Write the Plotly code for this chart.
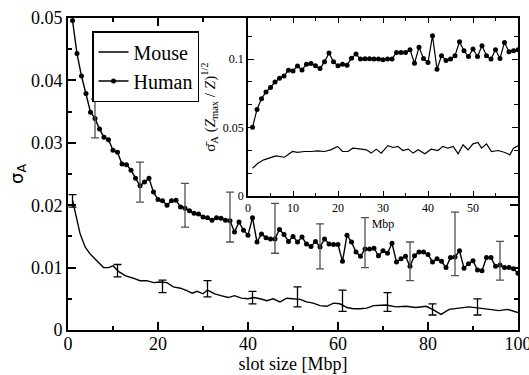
import plotly.graph_objects as go

# ---------------- data ----------------
human_x = list(range(1, 101))
human_y = [0.0496, 0.0443, 0.0407, 0.0379, 0.0349, 0.0339, 0.0322, 0.0309, 0.0305, 0.0288,
           0.0285, 0.0266, 0.0265, 0.0256, 0.0243, 0.0231, 0.0237, 0.0243, 0.0221, 0.0209,
           0.0207, 0.0200, 0.0207, 0.0208, 0.0197, 0.0195, 0.0191, 0.0187, 0.0186, 0.0181,
           0.0180, 0.0176, 0.0180, 0.0179, 0.0176, 0.0175, 0.0157, 0.0173, 0.0160, 0.0152,
           0.0180, 0.0141, 0.0154, 0.0148, 0.0146, 0.0146, 0.0161, 0.0153, 0.0142, 0.0150,
           0.0141, 0.0149, 0.0138, 0.0134, 0.0142, 0.0133, 0.0146, 0.0138, 0.0137, 0.0137,
           0.0110, 0.0152, 0.0141, 0.0125, 0.0118, 0.0130, 0.0130, 0.0131, 0.0119, 0.0127,
           0.0123, 0.0139, 0.0109, 0.0114, 0.0118, 0.0102, 0.0119, 0.0125, 0.0125, 0.0121,
           0.0109, 0.0114, 0.0110, 0.0100, 0.0116, 0.0117, 0.0127, 0.0099, 0.0106, 0.0111,
           0.0096, 0.0095, 0.0116, 0.0116, 0.0102, 0.0104, 0.0100, 0.0100, 0.0098, 0.0091]

mouse_x = [1, 1.8, 2.7, 3.8, 4.9, 6.4, 7.9, 9, 10, 11.2, 12.7, 14.5, 16, 17.5, 19, 20.4, 22,
           23.4, 25, 26.4, 27.6, 28.7, 30, 31, 32.6, 34, 35.6, 37, 38.5, 40, 41.3, 42.7, 44.2,
           45.6, 47.1, 48.6, 50.1, 51.6, 53, 54.5, 56, 57.5, 59, 60.4, 62, 63.4, 64.9, 66.4,
           67.9, 70.7, 72.9, 75.1, 77.3, 79.6, 81, 82.9, 84.7, 86.9, 89.1, 91.4, 93.6, 95.8,
           97.7, 100]
mouse_y = [0.0208, 0.0181, 0.0154, 0.0133, 0.0122, 0.0111, 0.0100, 0.0100, 0.0103, 0.0094,
           0.0087, 0.0083, 0.0079, 0.0079, 0.0076, 0.0077, 0.0076, 0.0069, 0.0067, 0.0063,
           0.0059, 0.0062, 0.0058, 0.0064, 0.0058, 0.0055, 0.0052, 0.0055, 0.0051, 0.0050,
           0.0052, 0.0050, 0.0047, 0.0050, 0.0045, 0.0051, 0.0050, 0.0049, 0.0045, 0.0043,
           0.0039, 0.0038, 0.0043, 0.0042, 0.0036, 0.0034, 0.0034, 0.0035, 0.0039, 0.0040,
           0.0037, 0.0038, 0.0036, 0.0038, 0.0033, 0.0025, 0.0033, 0.0035, 0.0037, 0.0035,
           0.0033, 0.0031, 0.0033, 0.0028]

human_err_x = [6, 16, 26, 36, 46, 56, 66, 76, 86, 96]
human_err_c = [0.0339, 0.0237, 0.0200, 0.0181, 0.0163, 0.0134, 0.0140, 0.0110, 0.0138, 0.0111]
human_err_d = [0.0031, 0.0032, 0.0035, 0.0040, 0.0040, 0.0036, 0.0040, 0.0031, 0.0051, 0.0031]

mouse_err_x = [1, 11, 21, 31, 41, 51, 61, 71, 81, 91]
mouse_err_c = [0.0207, 0.0095, 0.0070, 0.0066, 0.0052, 0.0053, 0.0047, 0.0045, 0.0033, 0.0037]
mouse_err_d = [0.0010, 0.0010, 0.0010, 0.0013, 0.0010, 0.0016, 0.0017, 0.0015, 0.0009, 0.0013]

inset_human_x = list(range(1, 61))
inset_human_y = [0.0502, 0.0632, 0.0711, 0.0760, 0.0792, 0.0833, 0.0860, 0.0877, 0.0919, 0.0914,
                 0.0950, 0.0921, 0.0963, 0.0968, 0.0951, 0.0931, 0.0980, 0.1044, 0.0980, 0.0951,
                 0.0963, 0.0956, 0.1007, 0.1037, 0.1000, 0.1002, 0.1002, 0.1000, 0.1000, 0.0995,
                 0.1000, 0.1000, 0.1049, 0.1049, 0.1049, 0.1069, 0.0970, 0.1086, 0.1005, 0.0975,
                 0.1171, 0.0926, 0.1025, 0.0990, 0.1000, 0.1025, 0.1127, 0.1061, 0.1019, 0.1073,
                 0.1019, 0.1098, 0.1025, 0.1000, 0.1069, 0.1005, 0.1122, 0.1054, 0.1061, 0.1069]

inset_mouse_x = [1, 2.2, 3.5, 6.2, 8.1, 9.9, 11, 12.5, 14, 15.5, 17, 18.4, 19.9, 21, 22.2, 23.3,
                 24.8, 26.3, 27.4, 28.5, 29.6, 31.1, 32.2, 33.3, 34.4, 35.6, 36.7, 37.8, 39.3,
                 40.7, 42.2, 43.3, 44.4, 45.6, 46.7, 47.8, 48.9, 50, 51.1, 51.9, 53, 54.1, 55.6,
                 57.1, 58.2, 59, 60]
inset_mouse_y = [0.0204, 0.0240, 0.0265, 0.0294, 0.0284, 0.0326, 0.0320, 0.0326, 0.0326, 0.0331,
                 0.0326, 0.0338, 0.0363, 0.0326, 0.0326, 0.0350, 0.0345, 0.0338, 0.0314, 0.0343,
                 0.0314, 0.0368, 0.0355, 0.0363, 0.0333, 0.0343, 0.0314, 0.0338, 0.0309, 0.0343,
                 0.0333, 0.0363, 0.0350, 0.0363, 0.0309, 0.0375, 0.0338, 0.0382, 0.0392, 0.0350,
                 0.0382, 0.0326, 0.0333, 0.0319, 0.0301, 0.0350, 0.0368]

series_names = ["Mouse", "Human"]
main_xticks = [0, 20, 40, 60, 80, 100]
inset_xticks = [0, 10, 20, 30, 40, 50]
inset_xticklabels = ["0", "10", "20", "30", "40", "50"]
inset_yticks = [0, 0.05, 0.1]
inset_yticklabels = ["0", "0.05", "0.1"]

# ---------------- figure ----------------
SERIF = "Liberation Serif, Times New Roman, serif"
W, H = 529, 375
ML, MR, MT, MB = 68, 11, 18, 45
PW, PH = W - ML - MR, H - MT - MB


def px2paper(px, py):
    return (px - ML) / PW, (H - MB - py) / PH


fig = go.Figure()

fig.add_trace(go.Scatter(x=mouse_x, y=mouse_y, mode="lines", name=series_names[0],
                         showlegend=True, line=dict(color="black", width=1.4)))
fig.add_trace(go.Scatter(x=human_x, y=human_y, mode="lines+markers", name=series_names[1],
                         showlegend=True, line=dict(color="black", width=1.4),
                         marker=dict(color="black", size=5)))
fig.add_trace(go.Scatter(x=mouse_err_x, y=mouse_err_c, mode="markers", showlegend=False,
                         marker=dict(size=0.1, color="rgba(0,0,0,0)"),
                         error_y=dict(type="data", array=mouse_err_d, visible=True,
                                      color="black", thickness=1.3, width=4)))
fig.add_trace(go.Scatter(x=human_err_x, y=human_err_c, mode="markers", showlegend=False,
                         marker=dict(size=0.1, color="rgba(0,0,0,0)"),
                         error_y=dict(type="data", array=human_err_d, visible=True,
                                      color="#505050", thickness=1.3, width=4)))

fig.add_trace(go.Scatter(x=inset_mouse_x, y=inset_mouse_y, mode="lines", showlegend=False,
                         xaxis="x2", yaxis="y2", line=dict(color="black", width=1.2)))
fig.add_trace(go.Scatter(x=inset_human_x, y=inset_human_y, mode="lines+markers",
                         showlegend=False, xaxis="x2", yaxis="y2",
                         line=dict(color="black", width=1.2),
                         marker=dict(color="black", size=5)))

lgx, lgy = px2paper(92, 31)

axis_common = dict(showgrid=False, zeroline=False, showline=True, linecolor="black",
                   mirror="allticks", ticks="inside", tickcolor="black",
                   ticklabeloverflow="allow", automargin=False)

fig.update_layout(
    width=W, height=H,
    margin=dict(l=ML, r=MR, t=MT, b=MB, autoexpand=False),
    paper_bgcolor="white", plot_bgcolor="white",
    font=dict(family=SERIF, color="black"),
    showlegend=True,
    legend=dict(x=lgx, y=lgy, xanchor="left", yanchor="top",
                bgcolor="white", bordercolor="black", borderwidth=1.5,
                font=dict(family=SERIF, size=20, color="black"),
                tracegroupgap=0, itemwidth=30),
    xaxis=dict(**axis_common, range=[0, 100], tickvals=main_xticks,
               ticklen=8, tickwidth=1.5, linewidth=2, ticklabelstandoff=-4,
               tickfont=dict(family=SERIF, size=18),
               minor=dict(ticks="inside", dtick=10, ticklen=4, tickwidth=1.5, tickcolor="black"),
               title=dict(text="slot size [Mbp]", font=dict(family=SERIF, size=18), standoff=4)),
    yaxis=dict(**axis_common, range=[0, 0.05], dtick=0.01, tick0=0,
               ticklen=8, tickwidth=1.5, linewidth=2,
               tickfont=dict(family=SERIF, size=18),
               minor=dict(ticks="inside", dtick=0.005, ticklen=4, tickwidth=1.5, tickcolor="black"),
               title=dict(text="σ<sub>A</sub>", font=dict(family="DejaVu Sans, sans-serif", size=18),
                          standoff=3)),
    xaxis2=dict(**axis_common, domain=[0.4, 1.0], anchor="y2", range=[0, 60],
                tickvals=inset_xticks, ticktext=inset_xticklabels,
                ticklen=5, tickwidth=1.2, linewidth=1.5,
                tickfont=dict(family=SERIF, size=12),
                minor=dict(ticks="inside", dtick=5, ticklen=3, tickwidth=1.2, tickcolor="black"),
                title=dict(text="Mbp", font=dict(family=SERIF, size=12), standoff=5)),
    yaxis2=dict(**axis_common, domain=[0.429, 1.0], anchor="x2", range=[0, 0.13],
                tickvals=inset_yticks, ticktext=inset_yticklabels,
                ticklen=6, tickwidth=1.2, linewidth=1.5,
                tickfont=dict(family=SERIF, size=12),
                minor=dict(ticks="inside", dtick=0.05 / 3, ticklen=4, tickwidth=1.2, tickcolor="black"),
                title=dict(text="σ\u0304<sub>A</sub> (<i>Z</i><sub>max</sub> / <i>Z</i>)<sup>1/2</sup>",
                           font=dict(family=SERIF, size=15), standoff=4)),
)

fig.write_html("out.html")
